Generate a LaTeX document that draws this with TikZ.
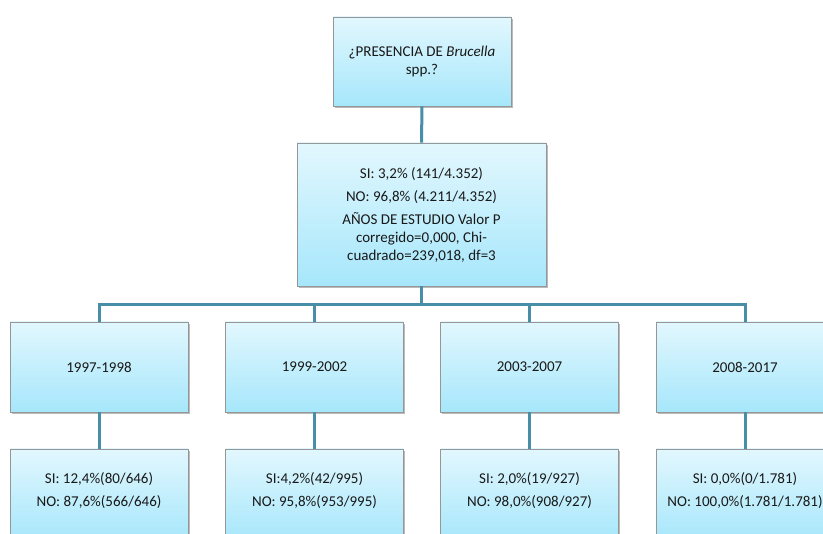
\documentclass[tikz,border=0pt]{standalone}
\usepackage{fontspec}
\setmainfont{Carlito}
\usetikzlibrary{shadows}
\definecolor{boxtop}{RGB}{226,247,254}
\definecolor{boxbot}{RGB}{166,231,251}
\definecolor{boxline}{RGB}{150,150,150}
\definecolor{conncol}{RGB}{72,142,166}
\definecolor{txtcol}{RGB}{25,25,25}
\tikzset{
  box/.style={draw=boxline, line width=0.9pt, top color=boxtop, bottom color=boxbot,
    drop shadow={shadow xshift=1.8pt, shadow yshift=-1.8pt, opacity=0.45, fill=black!60},
    align=center, text=txtcol, font=\fontsize{15}{18}\selectfont, inner sep=2pt},
  txt/.style={align=center, text=txtcol, font=\fontsize{15}{18}\selectfont, inner sep=0pt},
  conn/.style={draw=conncol, line width=3pt},
  yearbox/.style={box, minimum width=178pt, minimum height=90pt},
  resbox/.style={box, minimum width=178pt, minimum height=92pt}
}
\begin{document}
\begin{tikzpicture}[x=1pt,y=1pt]
\useasboundingbox (0,0) rectangle (823,-534);
\coordinate (bar) at (421.5,-305);
\node[box, minimum width=178pt, minimum height=89pt] (top) at (422,-61.5)
  {¿PRESENCIA DE \textit{Brucella}\\spp.?};
\node[box, minimum width=249pt, minimum height=143pt] (mid) at (421.5,-214.5)
  {SI: 3,2\% (141/4.352)\\[5pt]NO: 96,8\% (4.211/4.352)\\[5pt]AÑOS DE ESTUDIO Valor P\\corregido=0,000, Chi-\\cuadrado=239,018, df=3};
\node[yearbox] (y1) at (99,-367) {1997-1998};
\node[yearbox] (y2) at (314.5,-367) {1999-2002};
\node[yearbox] (y3) at (529.5,-367) {2003-2007};
\node[yearbox] (y4) at (745,-367) {2008-2017};
\node[resbox] (r1) at (99,-495) {};
\node[resbox] (r2) at (314.5,-495) {};
\node[resbox] (r3) at (529.5,-495) {};
\node[resbox] (r4) at (745,-495) {};
\node[txt] (t1) at (99,-490.5) {SI: 12,4\%(80/646)\\[5pt]NO: 87,6\%(566/646)};
\node[txt] (t2) at (314.5,-490.5) {SI:4,2\%(42/995)\\[5pt]NO: 95,8\%(953/995)};
\node[txt] (t3) at (529.5,-490.5) {SI: 2,0\%(19/927)\\[5pt]NO: 98,0\%(908/927)};
\node[txt] (t4) at (745,-490.5) {SI: 0,0\%(0/1.781)\\[5pt]NO: 100,0\%(1.781/1.781)};
\draw[conn] (top.south) -- (mid.north);
\draw[conn] (mid.south) -- (bar);
\draw[conn] (y1.north) |- (bar);
\draw[conn] (y4.north) |- (bar);
\draw[conn] (y2.north) -- (y2.north |- bar);
\draw[conn] (y3.north) -- (y3.north |- bar);
\draw[conn] (y1.south) -- (r1.north);
\draw[conn] (y2.south) -- (r2.north);
\draw[conn] (y3.south) -- (r3.north);
\draw[conn] (y4.south) -- (r4.north);
\end{tikzpicture}
\end{document}
